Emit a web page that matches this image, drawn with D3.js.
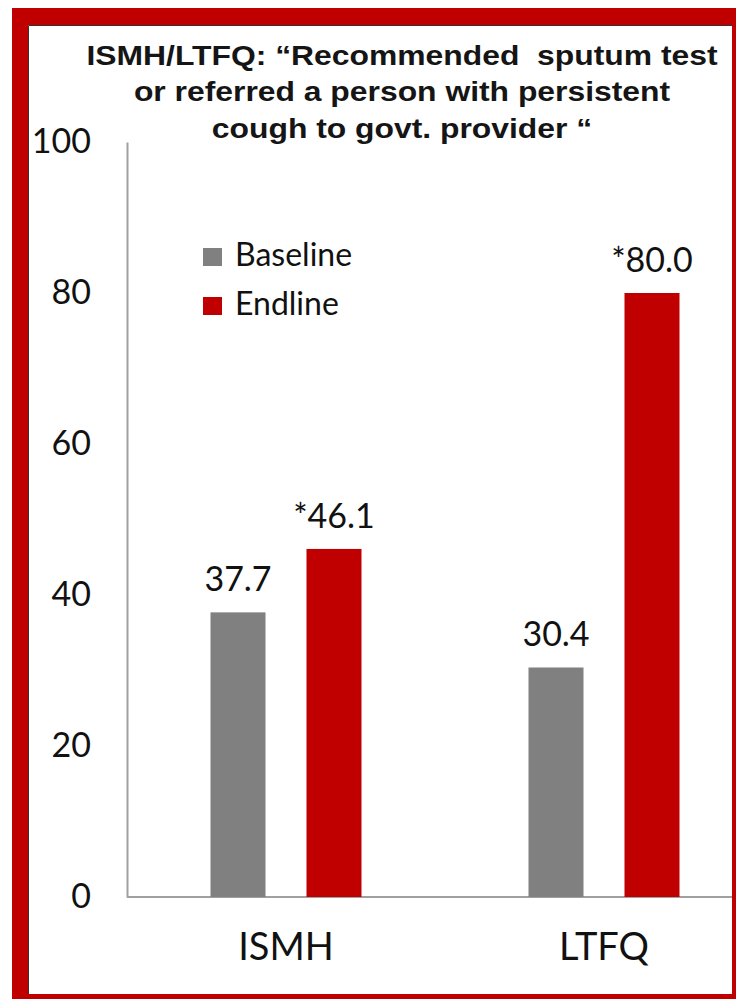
<!DOCTYPE html>
<html>
<head>
<meta charset="utf-8">
<script src="https://cdn.jsdelivr.net/npm/d3@7"></script>
<style>
  body { margin: 0; background: #fff; }
  svg { display: block; }
</style>
</head>
<body>
<div id="chart"></div>
<script>
// chart values
const categories = ["ISMH", "LTFQ"];
const series = ["Baseline", "Endline"];
const baseline = [37.7, 30.4];
const endline = [46.1, 80.0];
const baselineLabels = ["37.7", "30.4"];
const endlineLabels = ["*46.1", "*80.0"];
const yTicks = [0, 20, 40, 60, 80, 100];
const titleLines = [
  "ISMH/LTFQ: \u201cRecommended  sputum test",
  "or referred a person with persistent",
  "cough to govt. provider \u201c"
];

const width = 736, height = 999;
const red = "#c00000", grey = "#808080";
const labelFont = "Lato, 'Open Sans', sans-serif";

const svg = d3.select("#chart").append("svg")
  .attr("width", width)
  .attr("height", height);

// red frame
svg.append("rect").attr("x", 12).attr("y", 8).attr("width", width).attr("height", height)
  .attr("fill", red);
svg.append("rect").attr("x", 28).attr("y", 25).attr("width", 704).attr("height", 969)
  .attr("fill", "#fff");
svg.append("path").attr("d", "M28.5,994V25.5H732").attr("fill", "none")
  .attr("stroke", "#333").attr("stroke-width", 1);

const plot = { left: 127, right: 732, top: 142, bottom: 897 };
const step = 318;

const x0 = d3.scaleBand().domain(categories)
  .range([plot.left, plot.left + step * categories.length]);
const x1 = d3.scaleBand().domain(series)
  .range([83.5, 234.5]).paddingInner(0.427);
const y = d3.scaleLinear().domain([0, 100]).range([plot.bottom, plot.top]);
const color = d3.scaleOrdinal().domain(series).range([grey, red]);

// title
const title = svg.append("g")
  .attr("transform", "translate(402,0) scale(1.18,1)");
title.selectAll("text").data(titleLines).enter().append("text")
  .attr("x", 0)
  .attr("y", (d, i) => 65 + i * 36.5)
  .attr("text-anchor", "middle")
  .attr("font-family", "'Liberation Sans', Arial, sans-serif")
  .attr("font-weight", "bold")
  .attr("font-size", 27)
  .attr("fill", "#151515")
  .style("white-space", "pre")
  .text(d => d);

// y axis
const yAxis = svg.append("g")
  .attr("transform", `translate(${plot.left},0)`)
  .call(d3.axisLeft(y).tickValues(yTicks).tickSize(0).tickPadding(36).tickFormat(d3.format("d")));
yAxis.select(".domain").attr("stroke", "#a0a0a0").attr("stroke-width", 2);
yAxis.selectAll("text")
  .attr("font-family", labelFont)
  .attr("font-size", 34)
  .attr("fill", "#111");

// x baseline
svg.append("line")
  .attr("x1", plot.left).attr("x2", plot.right)
  .attr("y1", y(0)).attr("y2", y(0))
  .attr("stroke", "#a0a0a0").attr("stroke-width", 2);

// bars
const rows = categories.map((c, i) => ({
  cat: c,
  vals: [
    { s: series[0], v: baseline[i], label: baselineLabels[i] },
    { s: series[1], v: endline[i], label: endlineLabels[i] }
  ]
}));

const groups = svg.selectAll(".grp").data(rows).enter().append("g")
  .attr("class", "grp")
  .attr("transform", d => `translate(${x0(d.cat)},0)`);

groups.selectAll("rect").data(d => d.vals).enter().append("rect")
  .attr("x", d => x1(d.s))
  .attr("y", d => y(d.v))
  .attr("width", x1.bandwidth())
  .attr("height", d => y(0) - y(d.v))
  .attr("fill", d => color(d.s));

groups.selectAll(".val").data(d => d.vals).enter().append("text")
  .attr("class", "val")
  .attr("x", d => x1(d.s) + x1.bandwidth() / 2)
  .attr("y", d => y(d.v) - 21)
  .attr("text-anchor", "middle")
  .attr("font-family", labelFont)
  .attr("font-size", 34)
  .attr("fill", "#111")
  .text(d => d.label);

// category labels
svg.selectAll(".cat").data(categories).enter().append("text")
  .attr("class", "cat")
  .attr("x", d => x0(d) + step / 2)
  .attr("y", 960)
  .attr("text-anchor", "middle")
  .attr("font-family", labelFont)
  .attr("font-size", 38)
  .attr("fill", "#111")
  .text(d => d);

// legend
const legend = svg.append("g").attr("transform", "translate(203,248)");
const item = legend.selectAll("g").data(series).enter().append("g")
  .attr("transform", (d, i) => `translate(0,${i * 49})`);
item.append("rect").attr("width", 19).attr("height", 18).attr("fill", d => color(d));
item.append("text")
  .attr("x", 32).attr("y", 18)
  .attr("font-family", labelFont)
  .attr("font-size", 32)
  .attr("fill", "#111")
  .text(d => d);
</script>
</body>
</html>
